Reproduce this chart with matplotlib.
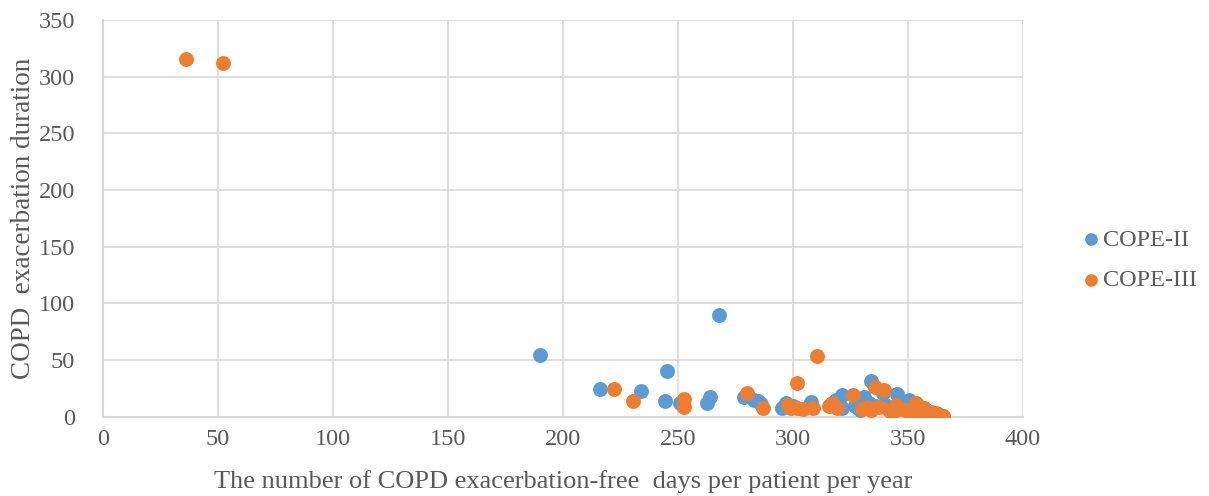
import matplotlib
matplotlib.use("Agg")
import matplotlib.pyplot as plt

# COPE-II (blue)
cope2_x = [190, 216, 233.8, 245, 244.4, 251, 262.5, 264, 268, 278.5, 283, 284.7, 286,
           295, 297, 300, 307.9, 318.6, 321.4, 321.4, 316, 330.7, 329.3, 334, 339.3,
           345.3, 350.3, 357.1, 340, 344, 348, 352, 355, 358, 360, 362, 364, 365, 333,
           336, 327]
cope2_y = [54, 24, 22.7, 40, 14, 12, 12.4, 17.6, 90, 17.6, 15, 14, 11,
           7.4, 11.8, 9, 13.2, 14.7, 19, 7.4, 10, 17.6, 5.9, 31.8, 20.6,
           19.7, 14.7, 0.6, 10, 8, 10, 6, 8, 5, 3, 2, 1, 0.5, 12,
           9, 9]

# COPE-III (orange)
cope3_x = [36, 52, 222, 230.3, 252.7, 252.7, 280, 286.9, 297.7, 301.7, 301.7, 299.3,
           304.3, 308.6, 310.5, 315.7, 319.3, 326, 332.1, 335.7, 339.7, 337.4, 341.7,
           344.6, 343, 348.6, 353.6, 352.2, 357.1, 360, 362.1, 364.6, 330, 334, 346,
           350, 355, 358, 363, 365, 317]
cope3_y = [316, 312, 24, 14, 15.6, 8.8, 20.6, 7.4, 10.3, 29.5, 7.4, 7.4,
           6.8, 7.4, 53.6, 9.4, 7.4, 19.1, 8.8, 25.9, 23.6, 8.8, 5.9,
           10.3, 3, 5.9, 11.8, 4.4, 7.4, 4.4, 3, 0.6, 7, 6, 7,
           5, 3, 6, 2, 1, 12]

x_ticks = [0, 50, 100, 150, 200, 250, 300, 350, 400]
y_ticks = [0, 50, 100, 150, 200, 250, 300, 350]

plt.rcParams['font.family'] = ['Liberation Serif', 'DejaVu Serif']

fig = plt.figure(figsize=(12.09, 4.96), dpi=100)
ax = fig.add_axes([0.0852, 0.160, 0.7610, 0.7997])

s = 115
ax.scatter(cope2_x, cope2_y, s=s, color='#5B9BD5', label='COPE-II', zorder=3, linewidths=0)
ax.scatter(cope3_x, cope3_y, s=s, color='#ED7D31', label='COPE-III', zorder=4, linewidths=0)

ax.set_xlim(0, 400)
ax.set_ylim(0, 350)
ax.set_xticks(x_ticks)
ax.set_yticks(y_ticks)
ax.grid(True, color='#D9D9D9', linewidth=1.2, zorder=0)
ax.set_axisbelow(True)
for side in ['top', 'right']:
    ax.spines[side].set_visible(False)
for side in ['left', 'bottom']:
    ax.spines[side].set_color('#D9D9D9')
    ax.spines[side].set_linewidth(1.5)
ax.tick_params(axis='both', length=0, labelsize=17.5, labelcolor='#595959')
ax.tick_params(axis='y', pad=20)
ax.tick_params(axis='x', pad=9)

ax.set_xlabel('The number of COPD exacerbation-free  days per patient per year',
              fontsize=19, color='#595959', labelpad=14)
ax.set_ylabel('COPD  exacerbation duration', fontsize=19.5, color='#595959', labelpad=2)

leg = fig.legend(loc='center left', bbox_to_anchor=(0.892, 0.476), frameon=False,
                 fontsize=17.5, handletextpad=0.0, labelspacing=0.75, markerscale=0.85,
                 handlelength=1.0, borderaxespad=0, borderpad=0)
for t in leg.get_texts():
    t.set_color('#595959')

fig.savefig('out.png', dpi=100)
